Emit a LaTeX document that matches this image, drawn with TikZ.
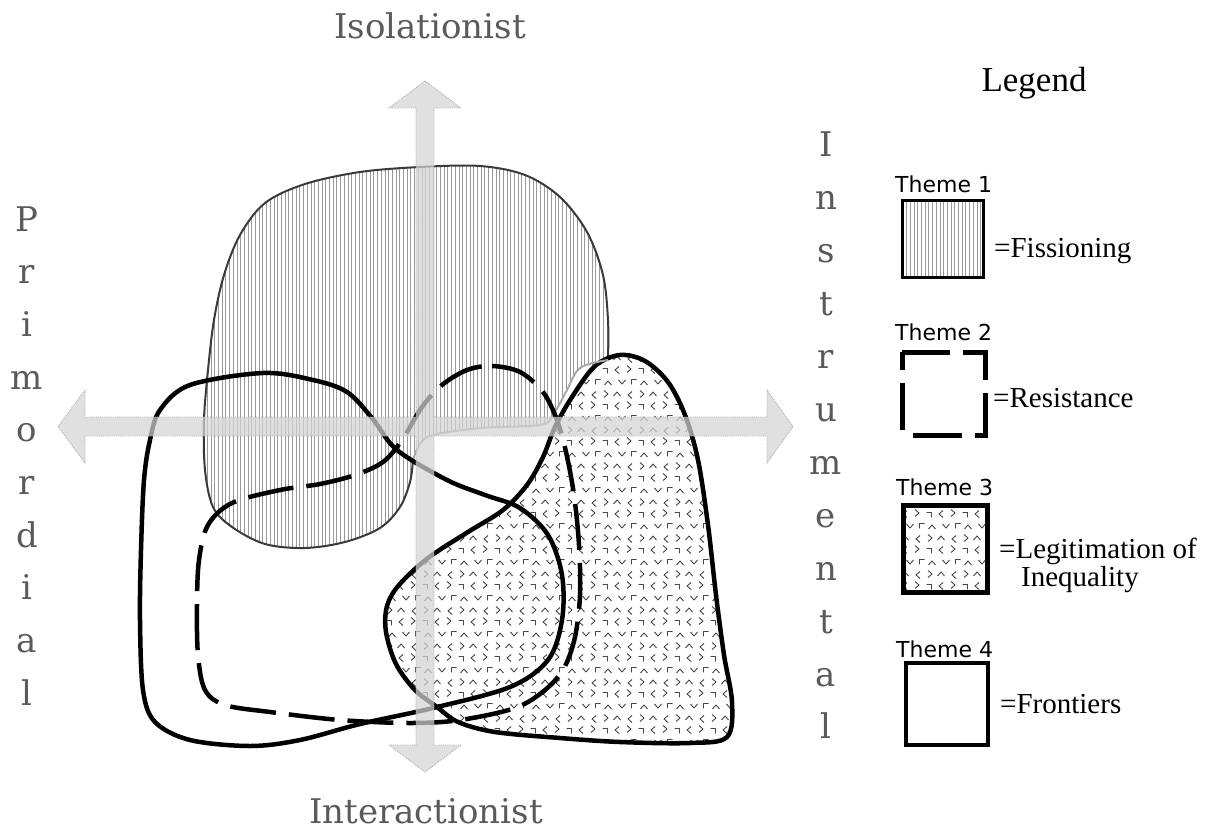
\documentclass[tikz,border=0pt]{standalone}
\usepackage{fontspec}
\setmainfont{Liberation Serif}
\newfontfamily\axisfont{DejaVu Serif}
\newfontfamily\themefont{DejaVu Sans}
\usetikzlibrary{patterns,patterns.meta}
\definecolor{axisgray}{HTML}{5A5A5A}
\definecolor{arrowfill}{HTML}{D4D4D4}
\definecolor{arrowedge}{HTML}{B0B0B0}
\definecolor{fissedge}{HTML}{3A3A3A}
\definecolor{fisslight}{HTML}{A8A8A8}
\newcommand\chv[6]{\pgfpathmoveto{\pgfqpoint{#1pt}{#2pt}}\pgfpathlineto{\pgfqpoint{#3pt}{#4pt}}\pgfpathlineto{\pgfqpoint{#5pt}{#6pt}}}
\pgfdeclarepatternformonly{chev}{\pgfqpoint{-1pt}{-1pt}}{\pgfqpoint{37pt}{37pt}}{\pgfqpoint{36pt}{36pt}}{%
  \pgfsetlinewidth{0.9pt}%
  \chv{1.5}{4}{5}{8}{8.5}{4}%
  \chv{20}{8.5}{16}{5}{20}{1.5}%
  \chv{28}{9.5}{32}{6}{28}{2.5}%
  \chv{6.5}{20}{10}{16}{13.5}{20}%
  \chv{19.5}{15.5}{19.5}{20.5}{24.5}{20.5}%
  \chv{28.5}{15}{32}{19}{35.5}{15}%
  \chv{7}{33.5}{3}{30}{7}{26.5}%
  \chv{15}{34.5}{19}{31}{15}{27.5}%
  \chv{26.5}{31.5}{31.5}{31.5}{31.5}{26.5}%
  \pgfusepath{stroke}}
\begin{document}
\begin{tikzpicture}[x=1pt,y=-1pt,
  frontier/.style={line width=4.5pt, line join=round},
  resist/.style={line width=4.5pt, dash pattern=on 46pt off 13pt},
  hatch/.style={pattern={Lines[angle=90,distance=3.7pt,line width=0.6pt]}, pattern color=black!40},
  chevfill/.style={pattern=chev, pattern color=black!72},
  axislbl/.style={font=\axisfont\fontsize{34}{40}\selectfont, text=axisgray, inner sep=0pt},
  legtxt/.style={font=\fontsize{29}{30}\selectfont, inner sep=0pt, anchor=base west},
  themelbl/.style={font=\themefont\fontsize{22}{24}\selectfont, inner sep=0pt, anchor=base west}]
\useasboundingbox (0,0) rectangle (1209,832);

% Theme 1: Fissioning
\fill[white] plot[smooth cycle, tension=0.55] coordinates {(413,460) (410,482) (400,507) (380,528) (345,542) (305,548) (265,544) (232,527) (213,507) (205,470) (204,420) (208,370) (214,320) (224,275) (240,235) (265,203) (305,184) (360,172) (420,167) (480,166) (525,175) (560,197) (587,232) (603,275) (608,320) (608,360) (580,368) (566,392) (553,415) (540,425) (480,428) (433,435) (420,444)};
\path[hatch] plot[smooth cycle, tension=0.55] coordinates {(413,460) (410,482) (400,507) (380,528) (345,542) (305,548) (265,544) (232,527) (213,507) (205,470) (204,420) (208,370) (214,320) (224,275) (240,235) (265,203) (305,184) (360,172) (420,167) (480,166) (525,175) (560,197) (587,232) (603,275) (608,320) (608,360) (580,368) (566,392) (553,415) (540,425) (480,428) (433,435) (420,444)};
\draw[fissedge, line width=2pt] plot[smooth, tension=0.55] coordinates {(413,460) (410,482) (400,507) (380,528) (345,542) (305,548) (265,544) (232,527) (213,507) (205,470) (204,420) (208,370) (214,320) (224,275) (240,235) (265,203) (305,184) (360,172) (420,167) (480,166) (525,175) (560,197) (587,232) (603,275) (608,320) (608,360)};

% Theme 3: Legitimation of Inequality
\fill[white] plot[smooth cycle, tension=0.55] coordinates {(620,355) (645,361) (668,382) (685,415) (698,460) (708,525) (716,595) (724,655) (732,702) (727,737) (690,743) (620,742) (560,738) (495,732) (458,722) (437,707) (415,690) (396,664) (386,632) (387,606) (399,585) (428,558) (468,532) (503,510) (527,485) (543,457) (555,427) (572,397) (595,366)};
\draw[frontier, chevfill] plot[smooth cycle, tension=0.55] coordinates {(620,355) (645,361) (668,382) (685,415) (698,460) (708,525) (716,595) (724,655) (732,702) (727,737) (690,743) (620,742) (560,738) (495,732) (458,722) (437,707) (415,690) (396,664) (386,632) (387,606) (399,585) (428,558) (468,532) (503,510) (527,485) (543,457) (555,427) (572,397) (595,366)};

% light part of the Fissioning outline
\draw[fisslight, line width=2pt] plot[smooth, tension=0.55] coordinates {(608,360) (580,368) (566,392) (553,415) (540,425) (480,428) (433,435) (420,444) (413,460)};

% Theme 4: Frontiers
\draw[frontier] plot[smooth cycle, tension=0.55] coordinates {(160,410) (190,385) (263,373) (313,380) (347,392) (372,418) (397,450) (447,480) (485,495) (520,508) (548,535) (562,575) (562,620) (548,660) (510,687) (433,708) (360,724) (300,740) (250,746) (190,740) (155,722) (143,690) (140,620) (141,550) (144,480) (150,440)};

% Theme 2: Resistance
\draw[resist] plot[smooth cycle, tension=0.55] coordinates {(467,370) (492,366) (520,372) (543,392) (557,420) (566,452) (574,495) (579,545) (580,595) (575,637) (564,668) (545,690) (515,708) (460,720) (410,723) (340,720) (270,712) (225,705) (205,690) (198,655) (197,605) (199,560) (208,525) (232,503) (280,490) (320,484) (355,475) (383,462) (402,440) (422,407) (442,385)};

% Axes (four-headed translucent arrow)
\path[fill=arrowfill, fill opacity=0.72, draw=arrowedge, densely dotted, line width=0.9pt]
  (425,81) -- (461,108) -- (434,108) -- (434,417) -- (767,417) -- (767,390) -- (793,426.5) -- (767,463) -- (767,436)
  -- (434,436) -- (434,745) -- (461,745) -- (425,772) -- (389,745) -- (416,745) -- (416,436) -- (85,436) -- (85,463)
  -- (58,426.5) -- (85,390) -- (85,417) -- (416,417) -- (416,108) -- (389,108) -- cycle;

% Axis labels
\node[axislbl, anchor=base] (iso) at (430,39) {Isolationist};
\node[axislbl, anchor=base] (inter) at (426,823) {Interactionist};
\foreach \ch [count=\i from 0] in {P,r,i,m,o,r,d,i,a,l}
  \node[axislbl, anchor=base] (prim\i) at (27,231+\i*52.7) {\ch};
\foreach \ch [count=\i from 0] in {I,n,s,t,r,u,m,e,n,t,a,l}
  \node[axislbl, anchor=base] (inst\i) at (826,157+\i*52.9) {\ch};

% Legend
\node[font=\fontsize{35}{38}\selectfont, inner sep=0pt, anchor=base] (legend) at (1034,92) {Legend};

\node[themelbl] (t1) at (895,192) {Theme 1};
\draw[line width=3pt, hatch] (902,200) rectangle (983,277);
\draw[line width=3pt] (902,200) rectangle (983,277);
\node[legtxt] (l1) at (994,257) {=Fissioning};

\node[themelbl] (t2) at (895,340) {Theme 2};
\draw[line width=5pt, dash pattern=on 48pt off 13pt on 50pt off 13pt on 52pt off 13pt on 49pt off 16pt on 47pt off 13pt on 18pt off 0pt]
  (902,352) -- (985,352) -- (985,435) -- (902,435) -- cycle;
\node[legtxt] (l2) at (993,407) {=Resistance};

\node[themelbl] (t3) at (896,495) {Theme 3};
\draw[line width=5pt, chevfill] (903,505) rectangle (987,592);
\node[legtxt] (l3) at (999,558) {=Legitimation of};
\node[legtxt] (l3b) at (1021,586) {Inequality};

\node[themelbl] (t4) at (896,657) {Theme 4};
\draw[line width=4pt] (906,663) rectangle (988,745);
\node[legtxt] (l4) at (1000,713) {=Frontiers};
\end{tikzpicture}
\end{document}
